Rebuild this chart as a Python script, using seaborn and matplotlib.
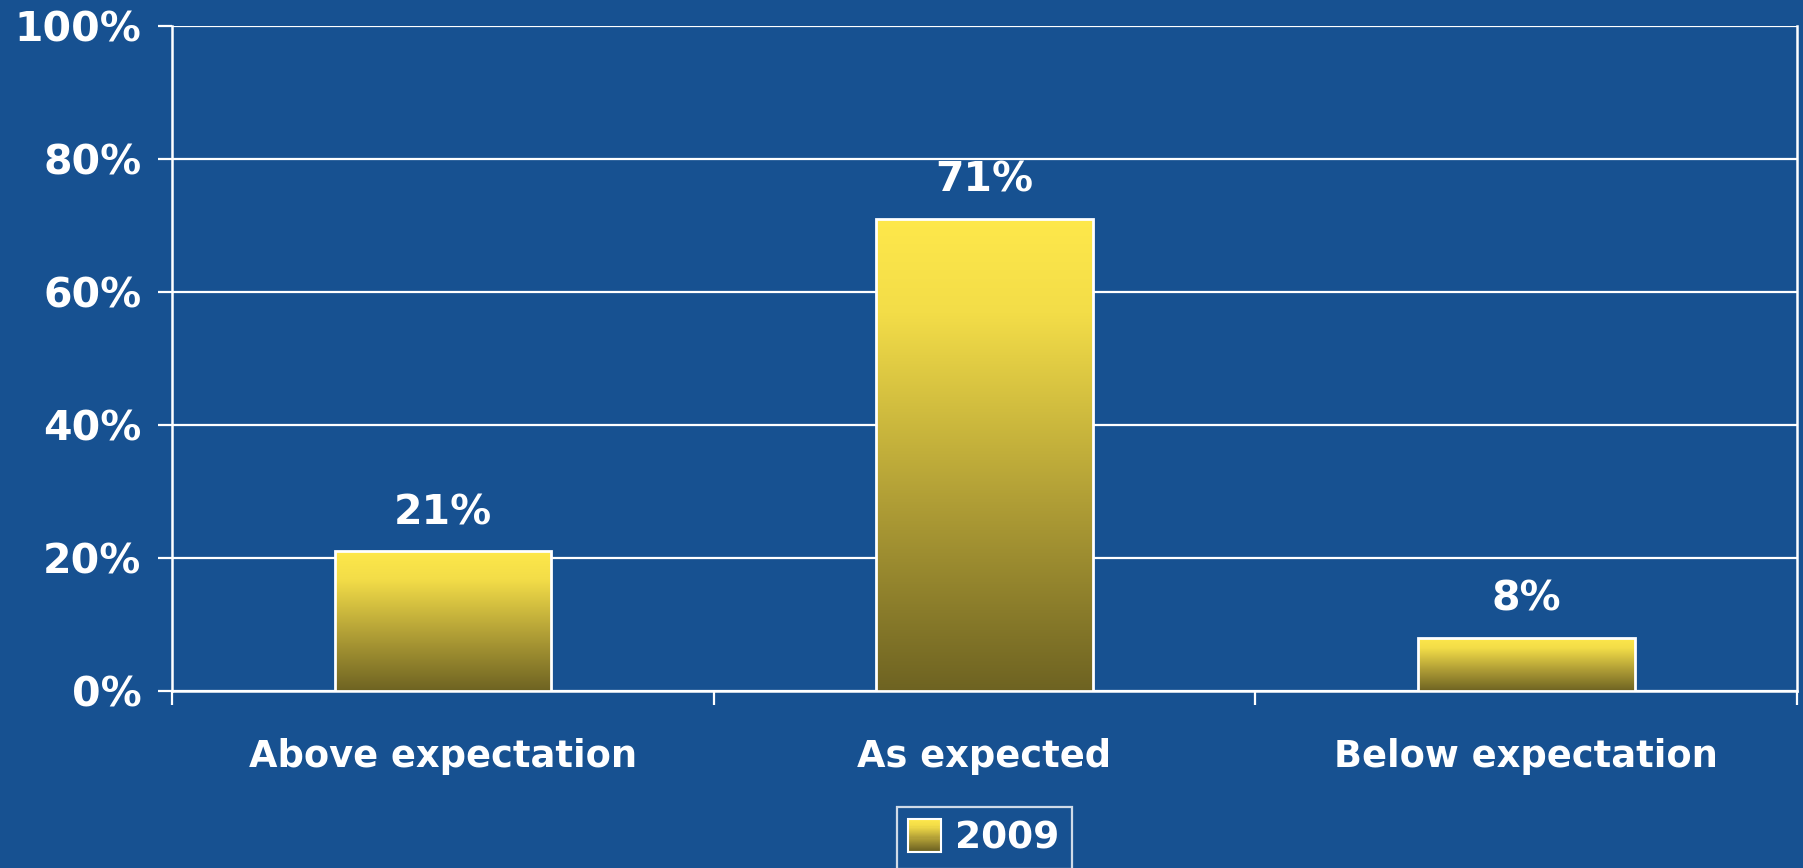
import numpy as np
import pandas as pd
import matplotlib
matplotlib.use("Agg")
import matplotlib.pyplot as plt
import seaborn as sns
from matplotlib.colors import LinearSegmentedColormap
from matplotlib.patches import Rectangle
from matplotlib.legend_handler import HandlerBase

categories = ["Above expectation", "As expected", "Below expectation"]
values = [21, 71, 8]
series_name = "2009"
y_ticks = [0, 20, 40, 60, 80, 100]

BG = "#175191"
grad = LinearSegmentedColormap.from_list(
    "g", [(0.0, "#6E6322"), (0.4, "#B09E36"), (0.8, "#F3DD48"), (1.0, "#FEE84B")])

sns.set_theme(style="white")
plt.rcParams['font.family'] = ['DejaVu Sans']

fig = plt.figure(figsize=(18.03, 8.68), dpi=100, facecolor=BG)
ax = fig.add_axes([0.0954, 0.204, 0.9013, 0.766])
ax.set_facecolor(BG)

df = pd.DataFrame({"category": categories, "value": values, "series": series_name})
sns.barplot(data=df, x="category", y="value", hue="series", ax=ax, width=0.4,
            palette=["#FEE84B"], edgecolor="white", linewidth=2, legend=False, zorder=3)

ax.set_ylim(0, 100)
ax.set_xlim(-0.5, len(categories) - 0.5)
ax.yaxis.grid(True, color="white", linewidth=1.6, zorder=0)
ax.set_axisbelow(True)

gimg = np.linspace(0, 1, 256).reshape(-1, 1)
for p in ax.patches:
    x0, y0 = p.get_x(), p.get_y()
    w, h = p.get_width(), p.get_height()
    im = ax.imshow(gimg, cmap=grad, origin="lower", aspect="auto",
                   extent=[x0, x0 + w, y0, y0 + h], zorder=3.5)
    im.set_clip_path(p)
    p.set_facecolor("none")
    p.set_zorder(4)

ax.set_xlim(-0.5, len(categories) - 0.5)
ax.set_ylim(0, 100)

for c in ax.containers:
    ax.bar_label(c, labels=[f"{v}%" for v in values], padding=13,
                 color="white", fontsize=29.5, fontweight="bold")

ax.set_yticks(y_ticks)
ax.set_yticklabels([f"{t}%" for t in y_ticks])
ax.tick_params(axis="y", colors="white", labelcolor="white", labelsize=29.5,
               length=10, width=1.6, direction="out", pad=12, left=True)
for lab in ax.get_yticklabels():
    lab.set_fontweight("bold")

ax.set_xticks(range(len(categories)))
ax.set_xticklabels(categories)
ax.set_xticks([i - 0.5 for i in range(len(categories) + 1)], minor=True)
ax.tick_params(axis="x", which="major", length=0, labelcolor="white",
               labelsize=26.5, pad=34)
ax.tick_params(axis="x", which="minor", length=10, width=1.6, color="white",
               direction="out", bottom=True)
for lab in ax.get_xticklabels():
    lab.set_fontweight("bold")

ax.set_xlabel("")
ax.set_ylabel("")
for side in ["left", "right", "bottom"]:
    ax.spines[side].set_visible(True)
    ax.spines[side].set_color("white")
    ax.spines[side].set_linewidth(1.8)
ax.spines["top"].set_visible(False)


class GradHandler(HandlerBase):
    def create_artists(self, legend, orig_handle, xdescent, ydescent,
                       width, height, fontsize, trans):
        n = 30
        side = height * 1.25
        x0 = xdescent + (width - side) / 2
        y0 = -ydescent + (height - side) / 2
        arts = []
        for i in range(n):
            r = Rectangle((x0, y0 + side * i / n), side, side / n + 0.3,
                          facecolor=grad(i / (n - 1)), edgecolor="none",
                          transform=trans)
            arts.append(r)
        arts.append(Rectangle((x0, y0), side, side, facecolor="none",
                              edgecolor="white", linewidth=1.5, transform=trans))
        return arts


handle = Rectangle((0, 0), 1, 1)
leg = fig.legend([handle], [series_name], handler_map={Rectangle: GradHandler()},
                 loc="upper center", bbox_to_anchor=(0.546, 0.070),
                 borderaxespad=0, frameon=True, fancybox=False,
                 handlelength=0.8, handletextpad=0.4, borderpad=0.35,
                 prop={"weight": "bold", "size": 27})
leg.get_frame().set_facecolor(BG)
leg.get_frame().set_edgecolor("white")
leg.get_frame().set_linewidth(1.6)
for t in leg.get_texts():
    t.set_color("white")

fig.savefig("out.png", dpi=100, facecolor=BG)
